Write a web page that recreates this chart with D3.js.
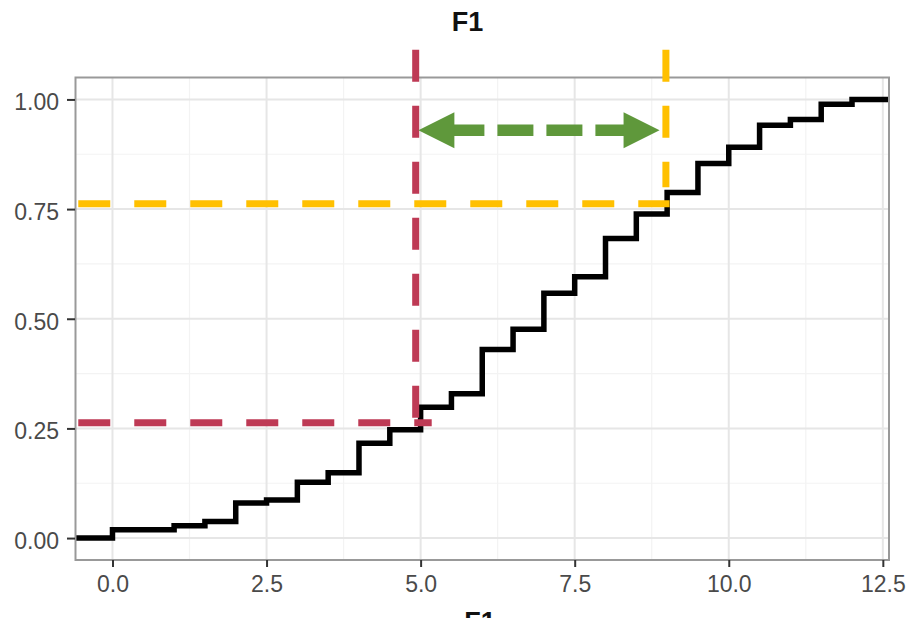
<!DOCTYPE html>
<html>
<head>
<meta charset="utf-8">
<script src="https://cdn.jsdelivr.net/npm/d3@7"></script>
<style>
  html, body { margin: 0; padding: 0; background: #fff; }
  svg { display: block; font-family: "Liberation Sans", Arial, sans-serif; }
</style>
</head>
<body>
<svg id="chart" width="907" height="618"></svg>
<script>
// ---------- data ----------
const titleText = "F1";
const xAxisTitle = "F1";
const stepX = [0, 1, 1.5, 2, 2.5, 3, 3.5, 4, 4.5, 5, 5.5, 6, 6.5, 7, 7.5, 8, 8.5, 9, 9.5, 10, 10.5, 11, 11.5, 12];
const ecdfY = [0.019, 0.028, 0.038, 0.080, 0.087, 0.127, 0.149, 0.216, 0.247, 0.298, 0.329, 0.430, 0.476, 0.558, 0.596, 0.683, 0.739, 0.788, 0.854, 0.891, 0.941, 0.954, 0.989, 1.0];
const xTicks = [0, 2.5, 5, 7.5, 10, 12.5];
const xTickLabels = ["0.0", "2.5", "5.0", "7.5", "10.0", "12.5"];
const yTicks = [0, 0.25, 0.5, 0.75, 1];
const yTickLabels = ["0.00", "0.25", "0.50", "0.75", "1.00"];
// annotation guide lines (data units)
const redGuide = { x: 4.92, y: 0.263, xFrom: -0.555, xTo: 5.18, yTop: 1.113, yBottom: 0.273 };
const yellowGuide = { x: 8.98, y: 0.762, xFrom: -0.555, xTo: 9.04, yTop: 1.113, yBottom: 0.80 };
const arrowSpan = { y: 0.930, x1: 4.964, x2: 8.877 };

// ---------- layout ----------
const svg = d3.select("#chart");
const panel = { left: 75.5, right: 889, top: 77.5, bottom: 560 };
const x = d3.scaleLinear().domain([-0.6, 12.6]).range([panel.left, panel.right]);
const y = d3.scaleLinear().domain([-0.05, 1.05]).range([panel.bottom, panel.top]);

const RED = "#BE3A55", YELLOW = "#FFC000", GREEN = "#5F983B";

// panel background
svg.append("rect")
  .attr("x", panel.left).attr("y", panel.top)
  .attr("width", panel.right - panel.left).attr("height", panel.bottom - panel.top)
  .attr("fill", "#fff");

// minor grid
const xMinor = d3.range(-0.6, 12.6, 0.0001).length ? [1.25, 3.75, 6.25, 8.75, 11.25] : [];
const yMinor = [0.125, 0.375, 0.625, 0.875];
const grid = svg.append("g");
grid.selectAll(".xmin").data(xMinor).join("line")
  .attr("x1", d => x(d)).attr("x2", d => x(d))
  .attr("y1", panel.top).attr("y2", panel.bottom)
  .attr("stroke", "#F3F3F3").attr("stroke-width", 1.2);
grid.selectAll(".ymin").data(yMinor).join("line")
  .attr("y1", d => y(d)).attr("y2", d => y(d))
  .attr("x1", panel.left).attr("x2", panel.right)
  .attr("stroke", "#F3F3F3").attr("stroke-width", 1.2);
// major grid
grid.selectAll(".xmaj").data(xTicks).join("line")
  .attr("x1", d => x(d)).attr("x2", d => x(d))
  .attr("y1", panel.top).attr("y2", panel.bottom)
  .attr("stroke", "#E6E6E6").attr("stroke-width", 2);
grid.selectAll(".ymaj").data(yTicks).join("line")
  .attr("y1", d => y(d)).attr("y2", d => y(d))
  .attr("x1", panel.left).attr("x2", panel.right)
  .attr("stroke", "#E6E6E6").attr("stroke-width", 2);

// ECDF step line
const pts = [[x.domain()[0], 0]].concat(stepX.map((d, i) => [d, ecdfY[i]])).concat([[x.domain()[1], 1]]);
const line = d3.line().x(d => x(d[0])).y(d => y(d[1])).curve(d3.curveStepAfter);
svg.append("path")
  .attr("d", line(pts))
  .attr("fill", "none")
  .attr("stroke", "#000")
  .attr("stroke-width", 5.5)
  .attr("stroke-linejoin", "miter");

// panel border
svg.append("rect")
  .attr("x", panel.left).attr("y", panel.top)
  .attr("width", panel.right - panel.left).attr("height", panel.bottom - panel.top)
  .attr("fill", "none").attr("stroke", "#999").attr("stroke-width", 2);

// axes
const xAxis = d3.axisBottom(x).tickValues(xTicks).tickFormat((d, i) => xTickLabels[i]).tickSize(7).tickPadding(9);
const yAxis = d3.axisLeft(y).tickValues(yTicks).tickFormat((d, i) => yTickLabels[i]).tickSize(8).tickPadding(8);
const gx = svg.append("g").attr("transform", `translate(0,${panel.bottom})`).call(xAxis);
const gy = svg.append("g").attr("transform", `translate(${panel.left - 0.5},0)`).call(yAxis);
[gx, gy].forEach(g => {
  g.select(".domain").remove();
  g.selectAll(".tick line").attr("stroke", "#333").attr("stroke-width", 2);
  g.selectAll(".tick text").attr("fill", "#4a4a4a").style("font-size", "23px").attr("font-family", "Liberation Sans, Arial, sans-serif");
});
gx.selectAll(".tick text").attr("dy", "0.71em");
gy.selectAll(".tick text").attr("dy", "0.45em");

// guide lines (drawn over the step line)
function guide(g, color) {
  svg.append("line")
    .attr("x1", x(g.xFrom)).attr("x2", x(g.xTo))
    .attr("y1", y(g.y)).attr("y2", y(g.y))
    .attr("stroke", color).attr("stroke-width", 7).attr("stroke-dasharray", "32,24");
  svg.append("line")
    .attr("x1", x(g.x)).attr("x2", x(g.x))
    .attr("y1", y(g.yTop)).attr("y2", y(g.yBottom))
    .attr("stroke", color).attr("stroke-width", 7).attr("stroke-dasharray", "32,24");
}
guide(redGuide, RED);
guide(yellowGuide, YELLOW);

// green double arrow
const ay = y(arrowSpan.y), ax1 = x(arrowSpan.x1), ax2 = x(arrowSpan.x2);
const headLen = 36, headHalf = 18;
svg.append("line")
  .attr("x1", ax1 + 30).attr("x2", ax2 - 28)
  .attr("y1", ay).attr("y2", ay)
  .attr("stroke", GREEN).attr("stroke-width", 11.5).attr("stroke-dasharray", "36,13");
svg.append("path")
  .attr("d", `M${ax1},${ay} L${ax1 + headLen},${ay - headHalf} L${ax1 + headLen},${ay + headHalf} Z`)
  .attr("fill", GREEN);
svg.append("path")
  .attr("d", `M${ax2},${ay} L${ax2 - headLen},${ay - headHalf} L${ax2 - headLen},${ay + headHalf} Z`)
  .attr("fill", GREEN);

// titles
svg.append("text")
  .attr("x", 467.5).attr("y", 31)
  .attr("text-anchor", "middle")
  .style("font-size", "27px").style("font-weight", "bold")
  .attr("fill", "#111")
  .text(titleText);
svg.append("text")
  .attr("x", 480).attr("y", 631)
  .attr("text-anchor", "middle")
  .style("font-size", "27px").style("font-weight", "bold")
  .attr("fill", "#111")
  .text(xAxisTitle);
</script>
</body>
</html>
